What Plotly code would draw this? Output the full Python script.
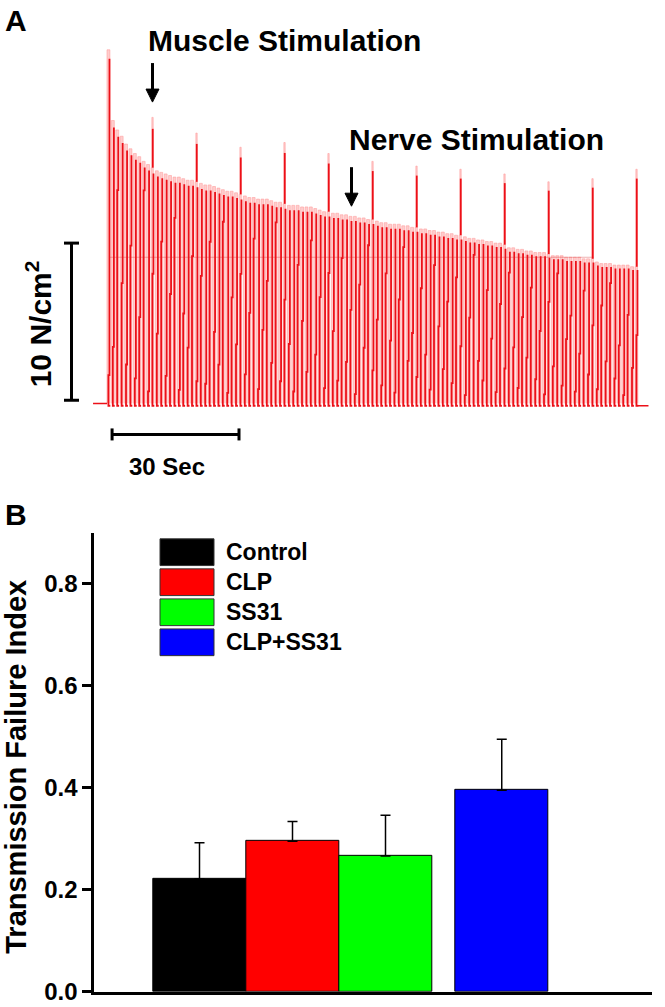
import plotly.graph_objects as go

W, H = 665, 1007        # reference frame (pixels)
H_CSS = 1021            # rendered figure height (compensates capture scaling)

# ---------------- Panel A data (force trace, N/cm^2) ----------------
period = 1.04  # s between successive nerve trains
nerve_peaks = [
    22.5,
    18.0, 17.4, 17.0, 16.5, 16.2, 15.9, 15.7, 15.4, 15.2, 15.0,
    14.8, 14.7, 14.6, 14.5, 14.4, 14.4, 14.3, 14.2, 14.2, 14.1,
    14.0, 13.9, 13.9, 13.8, 13.7, 13.6, 13.5, 13.5, 13.4, 13.3,
    13.2, 13.1, 13.1, 13.0, 13.0, 13.0, 12.9, 12.8, 12.8, 12.7,
    12.6, 12.6, 12.6, 12.5, 12.5, 12.5, 12.4, 12.3, 12.2, 12.2,
    12.1, 12.1, 12.0, 12.0, 11.9, 11.9, 11.8, 11.8, 11.7, 11.7,
    11.6, 11.5, 11.5, 11.4, 11.4, 11.4, 11.3, 11.3, 11.2, 11.2,
    11.1, 11.1, 11.0, 11.0, 10.9, 10.9, 10.8, 10.8, 10.7, 10.7,
    10.6, 10.5, 10.5, 10.4, 10.4, 10.3, 10.3, 10.2, 10.2, 10.1,
    9.9, 9.9, 9.8, 9.8, 9.7, 9.7, 9.6, 9.6, 9.6, 9.5,
    9.4, 9.4, 9.4, 9.3, 9.3, 9.3, 9.3, 9.2, 9.2, 9.2,
    9.0, 8.9, 8.9, 8.9, 8.8, 8.8, 8.8, 8.8, 8.7, 8.7,
]
muscle_idx = [10, 20, 30, 40, 50, 60, 70, 80, 90, 100, 110, 120]
muscle_peaks = [18.2, 17.2, 16.3, 16.6, 15.9, 15.4, 15.1, 14.9, 14.6, 14.1, 14.3, 14.9]
drop_frac = [
    0.08,
    0.20, 0.78, 0.45, 0.15, 0.62, 0.10, 0.35, 0.88, 0.05, 0.55,
    0.30, 0.70, 0.12, 0.48, 0.82, 0.06, 0.40, 0.25, 0.66, 0.10,
    0.58, 0.09, 0.74, 0.33, 0.18, 0.85, 0.05, 0.50, 0.28, 0.62,
    0.14, 0.44, 0.80, 0.07, 0.36, 0.60, 0.20, 0.90, 0.11, 0.52,
    0.30, 0.06, 0.70, 0.42, 0.16, 0.83, 0.25, 0.55, 0.08, 0.68,
    0.38, 0.12, 0.77, 0.22, 0.50, 0.05, 0.64, 0.30, 0.86, 0.18,
    0.46, 0.10, 0.72, 0.35, 0.06, 0.58, 0.88, 0.24, 0.40, 0.15,
    0.66, 0.28, 0.08, 0.80, 0.45, 0.20, 0.60, 0.12, 0.75, 0.34,
    0.05, 0.52, 0.90, 0.26, 0.14, 0.70, 0.40, 0.07, 0.62, 0.22,
    0.84, 0.36, 0.10, 0.56, 0.30, 0.76, 0.16, 0.48, 0.06, 0.68,
    0.25, 0.88, 0.12, 0.44, 0.60, 0.08, 0.34, 0.78, 0.20, 0.54,
    0.10, 0.70, 0.30, 0.86, 0.18, 0.42, 0.06, 0.64, 0.26, 0.50,
]
ref_level = 9.3          # faint horizontal reference line
scale_force = 10         # N/cm^2
scale_time = 30          # s

# ---------------- Panel B data ----------------
groups = ["Control", "CLP", "SS31", "CLP+SS31"]
tfi_mean = [0.221, 0.295, 0.266, 0.395]
tfi_sem = [0.071, 0.039, 0.080, 0.100]
bar_pos = [0, 1, 2, 3.25]
bar_colors = ["#000000", "#FF0000", "#00FF00", "#0000FF"]


def PX(x):
    return x / W


def PY(y):
    return 1 - y / H


# pixel geometry of panel A
x0_px, step_px = 107.0, 4.4
px_per_s = step_px / period
base_px, px_per_force = 403.0, 15.7
xA_range = [(0 - x0_px) / px_per_s, (W - x0_px) / px_per_s]
yA_top_px, yA_bot_px = 0, 470
yA_range = [(base_px - yA_bot_px) / px_per_force, (base_px - yA_top_px) / px_per_force]

w = 0.66 * period  # width of each contraction band
fill_x, fill_y = [], []
dark_x, dark_y = [], []
mus = dict(zip(muscle_idx, muscle_peaks))
for k, (P, f) in enumerate(zip(nerve_peaks, drop_frac)):
    t = k * period
    L = P * f
    if k in mus:
        S = mus[k]
        fill_x += [t, t, t + 0.3 * w, t + 0.3 * w, t + 0.75 * w, t + 0.75 * w, t + w, t + w, None]
        fill_y += [0, P, P, S, S, P, P, 0, None]
        dark_x += [t + 0.6 * w, t + 0.6 * w, None]
        dark_y += [S * 0.96, P, None]
    else:
        fill_x += [t, t, t + w, t + w, None]
        fill_y += [0, P, P, 0, None]
    xa = t + w * 0.85
    xb = xa - 0.25
    dark_x += [xa, xa, xb, xb, xb, xb + 0.45, None]
    dark_y += [P * 0.975, L, L, 0, -0.15, -0.15, None]

n = len(nerve_peaks)
t_end = (n - 1) * period + w
base_x = [-3.3, 0, None, t_end, t_end + 2.5]
base_y = [0, 0, None, -0.15, -0.15]

fig = go.Figure()
fig.add_trace(go.Scatter(
    x=fill_x, y=fill_y, mode="lines", fill="toself",
    fillcolor="rgba(255,205,205,1)", line=dict(color="rgba(255,160,160,1)", width=0.6),
    xaxis="x", yaxis="y", hoverinfo="skip", showlegend=False))
fig.add_trace(go.Scatter(
    x=[0.7, 115], y=[ref_level, ref_level], mode="lines",
    line=dict(color="rgba(210,40,40,0.35)", width=1),
    xaxis="x", yaxis="y", hoverinfo="skip", showlegend=False))
fig.add_trace(go.Scatter(
    x=dark_x, y=dark_y, mode="lines",
    line=dict(color="rgb(236,16,24)", width=1.8),
    xaxis="x", yaxis="y", hoverinfo="skip", showlegend=False))
fig.add_trace(go.Scatter(
    x=base_x, y=base_y, mode="lines",
    line=dict(color="rgb(236,16,24)", width=1.5),
    xaxis="x", yaxis="y", hoverinfo="skip", showlegend=False))

# Panel B bars
fig.add_trace(go.Bar(
    x=bar_pos, y=tfi_mean, width=1.0,
    marker=dict(color=bar_colors, line=dict(color="black", width=1)),
    error_y=dict(type="data", array=tfi_sem, arrayminus=[0] * len(tfi_sem),
                 symmetric=False, color="black", thickness=1.5, width=5),
    xaxis="x2", yaxis="y2", showlegend=False, hoverinfo="skip"))

FONT = "Arial, Liberation Sans, sans-serif"

# panel B geometry
yB_bot_px, yB_top_px = 990.7, 532.3
xB_left_px, xB_right_px = 94.3, 652.0
bar_w_px, first_center_px = 93.0, 199.5
xB_range = [(xB_left_px - first_center_px) / bar_w_px, (xB_right_px - first_center_px) / bar_w_px]

fig.update_layout(
    width=W, height=H_CSS,
    margin=dict(l=0, r=0, t=0, b=0),
    paper_bgcolor="white", plot_bgcolor="rgba(0,0,0,0)",
    font=dict(family=FONT, color="black"),
    showlegend=False,
    bargap=0,
    xaxis=dict(domain=[0, 1], range=xA_range, visible=False, anchor="y"),
    yaxis=dict(domain=[PY(yA_bot_px), PY(yA_top_px)], range=yA_range, visible=False, anchor="x"),
    xaxis2=dict(domain=[PX(xB_left_px), PX(xB_right_px)], range=xB_range, anchor="y2",
                showline=True, linewidth=3, linecolor="black", showticklabels=False,
                ticks="", showgrid=False, zeroline=False),
    yaxis2=dict(domain=[PY(yB_bot_px), PY(yB_top_px)], range=[0, 0.9], anchor="x2",
                showline=True, linewidth=3, linecolor="black", ticks="outside",
                ticklen=9, tickwidth=3, tickcolor="black",
                tickvals=[0, 0.2, 0.4, 0.6, 0.8], ticktext=["<b>0.0</b>", "<b>0.2</b>", "<b>0.4</b>", "<b>0.6</b>", "<b>0.8</b>"],
                tickfont=dict(size=24, family=FONT, color="black"),
                showgrid=False, zeroline=False),
)

shapes = []
# vertical force scale bar (10 N/cm^2)
sb_x = PX(71.5)
shapes.append(dict(type="line", xref="paper", yref="y", x0=sb_x, x1=sb_x, y0=0.2, y1=0.2 + scale_force,
                   line=dict(color="black", width=3)))
for yy in (0.2, 0.2 + scale_force):
    shapes.append(dict(type="line", xref="paper", yref="y", x0=PX(64), x1=PX(79), y0=yy, y1=yy,
                       line=dict(color="black", width=3)))
# horizontal time scale bar (30 s)
ts0 = 1.2
shapes.append(dict(type="line", xref="x", yref="paper", x0=ts0, x1=ts0 + scale_time, y0=PY(434), y1=PY(434),
                   line=dict(color="black", width=3)))
for xx in (ts0, ts0 + scale_time):
    shapes.append(dict(type="line", xref="x", yref="paper", x0=xx, x1=xx, y0=PY(428), y1=PY(440),
                       line=dict(color="black", width=3)))
# legend swatches
leg_top = [538.3, 568.3, 598.3, 628.3]
for c, yt in zip(bar_colors, leg_top):
    shapes.append(dict(type="rect", xref="paper", yref="paper", x0=PX(160), x1=PX(214),
                       y0=PY(yt + 26.7), y1=PY(yt), fillcolor=c, line=dict(color="#333333", width=1)))
# arrows (shaft + head)
for (xt, ytip, ytail) in [(152.5, 102, 63), (351.5, 206, 167)]:
    shapes.append(dict(type="line", xref="paper", yref="paper", x0=PX(xt), x1=PX(xt),
                       y0=PY(ytail), y1=PY(ytip - 10), line=dict(color="black", width=3)))
    shapes.append(dict(type="path", xref="paper", yref="paper",
                       path="M %f,%f L %f,%f L %f,%f Z" % (PX(xt - 6.5), PY(ytip - 13), PX(xt + 6.5), PY(ytip - 13), PX(xt), PY(ytip)),
                       fillcolor="black", line=dict(color="black", width=1)))
fig.update_layout(shapes=shapes)

ann = []


def text(x, y, s, size, xanchor="left", angle=0):
    ann.append(dict(xref="paper", yref="paper", x=PX(x), y=PY(y), text="<b>%s</b>" % s,
                    showarrow=False, xanchor=xanchor, yanchor="middle", textangle=angle,
                    font=dict(size=size, family=FONT, color="black")))


text(3, 20, "A", 30)
text(3, 514, "B", 30)
text(146, 40, "Muscle Stimulation", 30)
text(347, 139, "Nerve Stimulation", 30)
text(39, 324, "10 N/cm<sup>2</sup>", 30, xanchor="center", angle=-90)
text(167, 466, "30 Sec", 24, xanchor="center")
text(16, 766, "Transmission Failure Index", 29, xanchor="center", angle=-90)
for g, yt in zip(groups, leg_top):
    text(224, yt + 13.5, g, 23)

fig.update_layout(annotations=ann)
css = ("var s=document.createElement('style');"
       "s.innerHTML='html,body{margin:0;padding:0;}';"
       "document.head.appendChild(s);")
fig.write_html("out.html", config={"displayModeBar": False}, post_script=css)
